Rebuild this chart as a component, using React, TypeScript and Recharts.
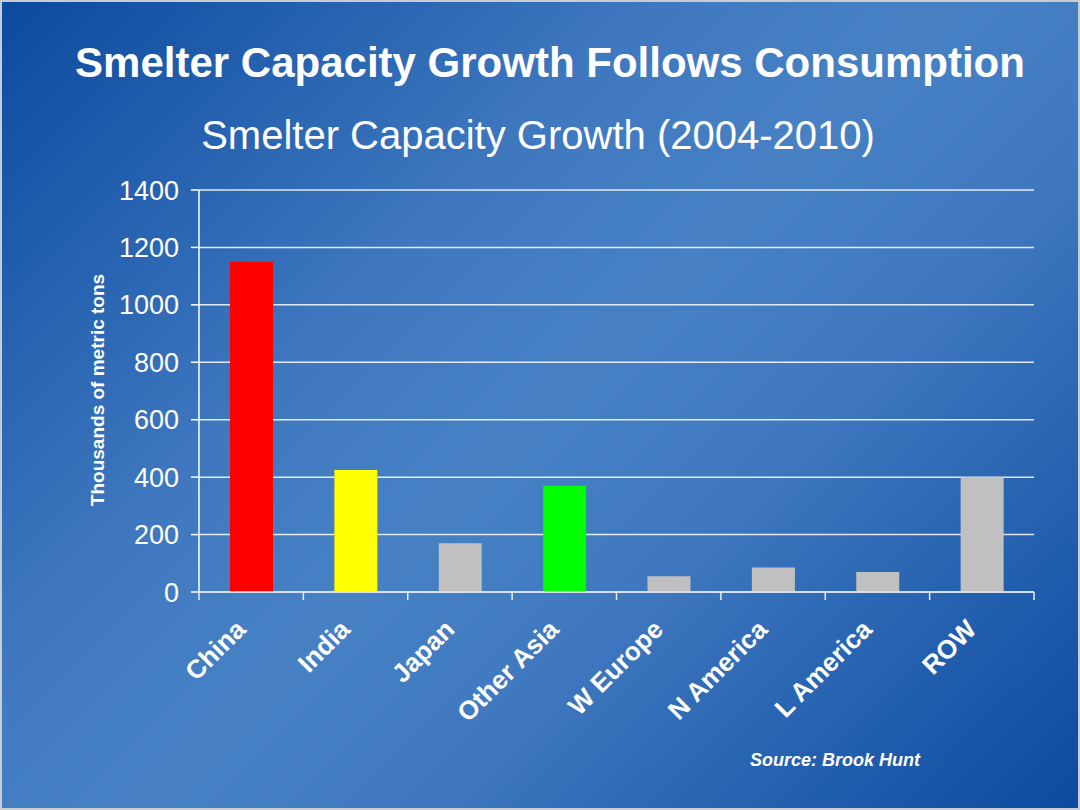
import React from "react";
import { BarChart, Bar, XAxis, YAxis, CartesianGrid, Cell } from "recharts";

const regions = ["China", "India", "Japan", "Other Asia", "W Europe", "N America", "L America", "ROW"];
const capacityGrowth = [1150, 425, 170, 370, 55, 85, 70, 400];
const barColors = ["#ff0000", "#ffff00", "#c0c0c0", "#00ff00", "#c0c0c0", "#c0c0c0", "#c0c0c0", "#c0c0c0"];
const yTicks = [0, 200, 400, 600, 800, 1000, 1200, 1400];

const W = 1080;
const H = 810;
const PLOT_LEFT = 199;
const PLOT_RIGHT = 1034;
const PLOT_TOP = 190;
const PLOT_BOTTOM = 592;
const X_AXIS_H = 30;
const HALF_BAND = (PLOT_RIGHT - PLOT_LEFT) / regions.length / 2;
const FONT = "Arial, 'Liberation Sans', Helvetica, sans-serif";

const chartData = regions.map((region, i) => ({ region, value: capacityGrowth[i] }));

// category ticks sit between bars, labels rotated under each bar
const RegionTick = ({ x, y, payload, index }: any) => {
  const isLast = index === regions.length - 1;
  const tx = x - 4;
  const ty = y + 39;
  return (
    <g>
      <line x1={x - HALF_BAND} y1={y} x2={x - HALF_BAND} y2={y + 8} stroke="#e8eef8" strokeWidth={1.5} />
      {isLast && (
        <line x1={x + HALF_BAND} y1={y} x2={x + HALF_BAND} y2={y + 8} stroke="#e8eef8" strokeWidth={1.5} />
      )}
      <text
        x={tx}
        y={ty}
        transform={`rotate(-45, ${tx}, ${ty})`}
        textAnchor="end"
        fill="#ffffff"
        fontSize={26}
        fontWeight="bold"
        fontFamily={FONT}
      >
        {payload.value}
      </text>
    </g>
  );
};

export default function App() {
  return (
    <div
      style={{
        position: "absolute",
        left: 0,
        top: 0,
        width: W,
        height: H,
        boxSizing: "border-box",
        border: "2px solid #c8ccd4",
        background: "linear-gradient(135deg, #0b4a9f 0%, #3f78bf 35%, #4781c4 50%, #3f78bf 65%, #0c4aa0 100%)",
        fontFamily: FONT,
        overflow: "hidden",
      }}
    >
      <div style={{ position: "absolute", left: -2, top: -2 }}>
        <BarChart
          width={W}
          height={H}
          data={chartData}
          margin={{
            top: PLOT_TOP,
            right: W - PLOT_RIGHT,
            bottom: H - PLOT_BOTTOM - X_AXIS_H,
            left: PLOT_LEFT - 110,
          }}
        >
          <CartesianGrid horizontal vertical={false} stroke="#ffffff" strokeOpacity={0.85} strokeWidth={1.5} />
          <XAxis
            dataKey="region"
            height={X_AXIS_H}
            interval={0}
            tickLine={false}
            tickSize={0}
            tickMargin={0}
            axisLine={{ stroke: "#dfe6f2", strokeWidth: 1.5 }}
            tick={<RegionTick />}
          />
          <YAxis
            width={110}
            domain={[0, 1400]}
            ticks={yTicks}
            interval={0}
            tickSize={8}
            tickMargin={12}
            axisLine={{ stroke: "#ffffff", strokeWidth: 1.5 }}
            tickLine={{ stroke: "#ffffff", strokeWidth: 1.5 }}
            tick={{ fill: "#ffffff", fontSize: 27, fontFamily: FONT }}
          />
          <Bar dataKey="value" barSize={43} isAnimationActive={false}>
            {chartData.map((d, i) => (
              <Cell key={d.region} fill={barColors[i]} />
            ))}
          </Bar>
        </BarChart>
      </div>
      <svg
        width={W}
        height={H}
        style={{ position: "absolute", left: -2, top: -2, pointerEvents: "none" }}
      >
        <text x={550} y={77} textAnchor="middle" fill="#ffffff" fontSize={42} fontWeight="bold" fontFamily={FONT}>
          Smelter Capacity Growth Follows Consumption
        </text>
        <text x={538} y={149} textAnchor="middle" fill="#ffffff" fontSize={40} fontFamily={FONT}>
          Smelter Capacity Growth (2004-2010)
        </text>
        <text
          x={104}
          y={390}
          transform="rotate(-90, 104, 390)"
          textAnchor="middle"
          fill="#ffffff"
          fontSize={19}
          fontWeight="bold"
          fontFamily={FONT}
        >
          Thousands of metric tons
        </text>
        <text
          x={835}
          y={766}
          textAnchor="middle"
          fill="#ffffff"
          fontSize={18}
          fontWeight="bold"
          fontStyle="italic"
          fontFamily={FONT}
        >
          Source: Brook Hunt
        </text>
      </svg>
    </div>
  );
}
